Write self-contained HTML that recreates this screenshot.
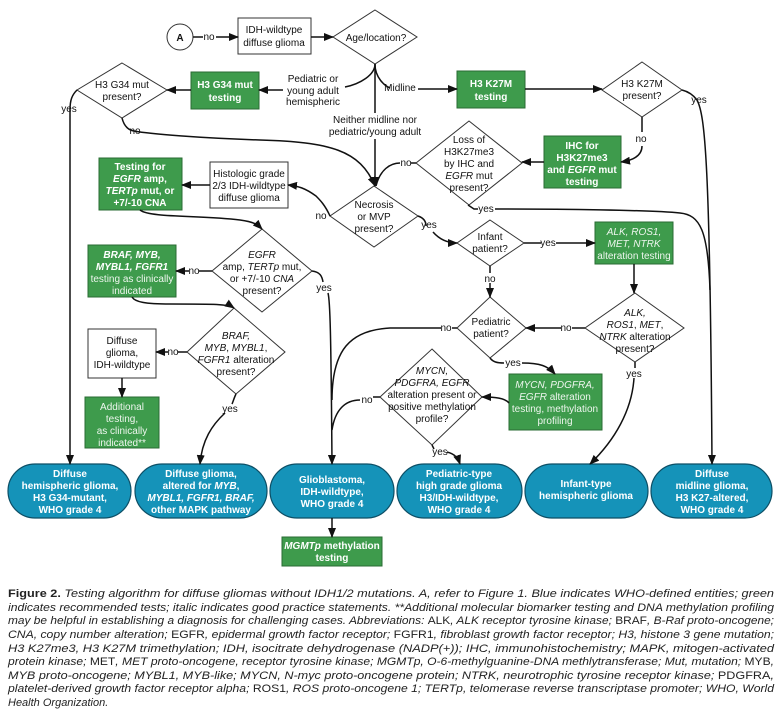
<!DOCTYPE html>
<html><head><meta charset="utf-8"><style>
html,body{margin:0;padding:0;background:#fff}
svg{display:block}
text{font-family:"Liberation Sans",sans-serif;font-size:10px;fill:#111}
.w{fill:#fff;font-weight:bold}
.l{fill:#eef6ee;font-weight:normal}
.c{font-family:"Liberation Sans",sans-serif;font-size:11px;font-style:italic;fill:#222}
.g{fill:#3e9b4c;stroke:#2a6b33;stroke-width:1}
.b{fill:#1593b9;stroke:#0d4f66;stroke-width:1.2}
.n{fill:#fff;stroke:#333;stroke-width:1}
.ln{fill:none;stroke:#111;stroke-width:1.5}
</style></head><body>
<svg width="783" height="711" viewBox="0 0 783 711" xmlns="http://www.w3.org/2000/svg">
<defs><marker id="a" markerWidth="10" markerHeight="8" refX="9" refY="4" orient="auto" markerUnits="userSpaceOnUse"><path d="M0,0 L10,4 L0,8 z" fill="#111"/></marker></defs>
<g text-anchor="middle">
<circle cx="180" cy="37" r="13" class="n" stroke-width="1.3"/><text x="180" y="41" font-weight="bold" font-size="12">A</text>
<rect x="238" y="18" width="73" height="36" class="n"/><text x="274" y="33">IDH-wildtype</text><text x="274" y="46">diffuse glioma</text>
<polygon points="375,10 417,37 375,64 333,37" class="n"/><text x="376" y="41">Age/location?</text>
<polygon points="122,63 167,90 122,118 77,90" class="n"/><text x="122" y="88">H3 G34 mut</text><text x="122" y="100">present?</text>
<rect x="191" y="72" width="68" height="37" class="g"/><text class="w" x="225" y="88">H3 G34 mut</text><text class="w" x="225" y="101">testing</text>
<text x="313" y="82">Pediatric or</text><text x="313" y="94">young adult</text><text x="313" y="105">hemispheric</text>
<rect x="457" y="71" width="68" height="37" class="g"/><text class="w" x="491" y="87">H3 K27M</text><text class="w" x="491" y="100">testing</text>
<polygon points="642,62 682,90 642,117 602,90" class="n"/><text x="642" y="87">H3 K27M</text><text x="642" y="99">present?</text>
<text x="375" y="123">Neither midline nor</text><text x="375" y="135">pediatric/young adult</text>
<polygon points="469,121 522,163 469,205 416,163" class="n"/>
<text x="469" y="143">Loss of</text><text x="469" y="155">H3K27me3</text><text x="469" y="167">by IHC and</text><text x="469" y="179"><tspan font-style="italic">EGFR</tspan> mut</text><text x="469" y="191">present?</text>
<rect x="544" y="136" width="77" height="52" class="g"/><text class="w" x="582" y="149">IHC for</text><text class="w" x="582" y="161">H3K27me3</text><text class="w" x="582" y="173">and <tspan font-style="italic">EGFR</tspan> mut</text><text class="w" x="582" y="185">testing</text>
<polygon points="374,186 418,216 374,247 330,216" class="n"/><text x="374" y="208">Necrosis</text><text x="374" y="220">or MVP</text><text x="374" y="232">present?</text>
<rect x="210" y="162" width="78" height="46" class="n"/><text x="249" y="177">Histologic grade</text><text x="249" y="189">2/3 IDH-wildtype</text><text x="249" y="201">diffuse glioma</text>
<rect x="99" y="158" width="83" height="52" class="g"/><text class="w" x="140" y="170">Testing for</text><text class="w" x="140" y="182"><tspan font-style="italic">EGFR</tspan> amp,</text><text class="w" x="140" y="194"><tspan font-style="italic">TERTp</tspan> mut, or</text><text class="w" x="140" y="206">+7/-10 CNA</text>
<polygon points="262,229 312,271 262,312 212,271" class="n"/><text x="262" y="258" font-style="italic">EGFR</text><text x="262" y="270">amp, <tspan font-style="italic">TERTp</tspan> mut,</text><text x="262" y="282">or +7/-10 <tspan font-style="italic">CNA</tspan></text><text x="262" y="294">present?</text>
<rect x="88" y="245" width="88" height="52" class="g"/><text class="w" x="132" y="258" font-style="italic">BRAF, MYB,</text><text class="w" x="132" y="270" font-style="italic">MYBL1, FGFR1</text><text class="l" x="132" y="282">testing as clinically</text><text class="l" x="132" y="294">indicated</text>
<polygon points="490,220 524,243 490,266 457,243" class="n"/><text x="490" y="240">Infant</text><text x="490" y="252">patient?</text>
<rect x="595" y="222" width="78" height="42" class="g"/><text class="l" x="634" y="235" font-style="italic">ALK, ROS1,</text><text class="l" x="634" y="247" font-style="italic">MET, NTRK</text><text class="l" x="634" y="259">alteration testing</text>
<polygon points="635,293 684,328 635,362 585,328" class="n"/><text x="635" y="316" font-style="italic">ALK,</text><text x="635" y="328"><tspan font-style="italic">ROS1</tspan>, <tspan font-style="italic">MET</tspan>,</text><text x="635" y="340"><tspan font-style="italic">NTRK</tspan> alteration</text><text x="635" y="352">present?</text>
<polygon points="490,297 526,328 490,358 457,328" class="n"/><text x="491" y="325">Pediatric</text><text x="491" y="337">patient?</text>
<polygon points="432,349 482,397 432,445 380,397" class="n"/><text x="432" y="374" font-style="italic">MYCN,</text><text x="432" y="386" font-style="italic">PDGFRA, EGFR</text><text x="432" y="398">alteration present or</text><text x="432" y="410">positive methylation</text><text x="432" y="422">profile?</text>
<rect x="509" y="374" width="93" height="56" class="g"/><text class="l" x="555" y="388"><tspan font-style="italic">MYCN, PDGFRA,</tspan></text><text class="l" x="555" y="400"><tspan font-style="italic">EGFR</tspan> alteration</text><text class="l" x="555" y="412">testing, methylation</text><text class="l" x="555" y="424">profiling</text>
<polygon points="234,308 285,352 236,394 187,352" class="n"/><text x="236" y="339" font-style="italic">BRAF,</text><text x="236" y="351"><tspan font-style="italic">MYB</tspan>, <tspan font-style="italic">MYBL1</tspan>,</text><text x="236" y="363"><tspan font-style="italic">FGFR1</tspan> alteration</text><text x="236" y="375">present?</text>
<rect x="88" y="329" width="68" height="49" class="n"/><text x="122" y="344">Diffuse</text><text x="122" y="356">glioma,</text><text x="122" y="368">IDH-wildtype</text>
<rect x="85" y="397" width="74" height="51" class="g"/><text class="l" x="122" y="410">Additional</text><text class="l" x="122" y="422">testing,</text><text class="l" x="122" y="434">as clinically</text><text class="l" x="122" y="446">indicated**</text>
<rect x="8" y="464" width="123" height="54" rx="27" class="b"/><text class="w" x="70" y="477">Diffuse</text><text class="w" x="70" y="489">hemispheric glioma,</text><text class="w" x="70" y="501">H3 G34-mutant,</text><text class="w" x="70" y="513">WHO grade 4</text>
<rect x="135" y="464" width="132" height="54" rx="27" class="b"/><text class="w" x="201" y="477">Diffuse glioma,</text><text class="w" x="201" y="489">altered for <tspan font-style="italic">MYB</tspan>,</text><text class="w" x="201" y="501" font-style="italic">MYBL1, FGFR1, BRAF,</text><text class="w" x="201" y="513">other MAPK pathway</text>
<rect x="270" y="464" width="124" height="54" rx="27" class="b"/><text class="w" x="332" y="483">Glioblastoma,</text><text class="w" x="332" y="495">IDH-wildtype,</text><text class="w" x="332" y="507">WHO grade 4</text>
<rect x="397" y="464" width="125" height="54" rx="27" class="b"/><text class="w" x="459" y="477">Pediatric-type</text><text class="w" x="459" y="489">high grade glioma</text><text class="w" x="459" y="501">H3/IDH-wildtype,</text><text class="w" x="459" y="513">WHO grade 4</text>
<rect x="525" y="464" width="123" height="54" rx="27" class="b"/><text class="w" x="586" y="487">Infant-type</text><text class="w" x="586" y="499">hemispheric glioma</text>
<rect x="651" y="464" width="121" height="54" rx="27" class="b"/><text class="w" x="712" y="477">Diffuse</text><text class="w" x="712" y="489">midline glioma,</text><text class="w" x="712" y="501">H3 K27-altered,</text><text class="w" x="712" y="513">WHO grade 4</text>
<rect x="282" y="537" width="100" height="29" class="g"/><text class="w" x="332" y="549"><tspan font-style="italic">MGMTp</tspan> methylation</text><text class="w" x="332" y="561">testing</text>
</g>
<g class="ln">
<path d="M193,37 H203 M216,37 H238" marker-end="url(#a)"/>
<path d="M311,37 H333" marker-end="url(#a)"/>
<path d="M375,64 C375,75 360,84 345,87 M283,90 H259" marker-end="url(#a)"/>
<path d="M375,64 C375,78 385,86 390,88"/>
<path d="M418,89 H457" marker-end="url(#a)"/>
<path d="M375,64 V113 M375,139 V186" marker-end="url(#a)"/>
<path d="M191,90 H167" marker-end="url(#a)"/>
<path d="M77,90 C72,95 70,100 70,110 V464" marker-end="url(#a)"/>
<path d="M122,118 C124,126 128,130 134,131 C150,134 200,138 260,140 C330,142 360,150 375,186" marker-end="url(#a)"/>
<path d="M525,89 H602" marker-end="url(#a)"/>
<path d="M682,90 C690,92 694,96 697,100 C705,115 710,160 712,464" marker-end="url(#a)"/>
<path d="M642,117 V132 M642,146 C642,155 635,160 621,162" marker-end="url(#a)"/>
<path d="M544,162 H522" marker-end="url(#a)"/>
<path d="M416,163 H411 M400,163 C390,163 380,170 376,186"/>
<path d="M468,205 L474,209 H478 M495,209 C560,209 650,210 680,213 C700,215 708,230 710,290"/>
<path d="M330,216 C325,205 320,200 316,196 C305,188 298,186 288,185" marker-end="url(#a)"/>
<path d="M210,185 H182" marker-end="url(#a)"/>
<path d="M140,210 C150,218 200,215 240,220 C255,222 258,225 262,229" marker-end="url(#a)"/>
<path d="M212,271 H199 M189,271 H176" marker-end="url(#a)"/>
<path d="M312,271 C320,272 322,276 323,282 M328,293 C330,300 331,330 332,464" marker-end="url(#a)"/>
<path d="M132,297 C135,302 145,304 170,304 C215,304 228,304 234,308" marker-end="url(#a)"/>
<path d="M187,352 H178 M168,352 H156" marker-end="url(#a)"/>
<path d="M122,378 V397" marker-end="url(#a)"/>
<path d="M236,394 C234,398 233,402 232,404 M225,413 C212,425 202,440 200,464" marker-end="url(#a)"/>
<path d="M418,216 C424,218 426,222 426,226 M433,232 C440,240 448,243 457,243" marker-end="url(#a)"/>
<path d="M524,243 H541 M556,243 H595" marker-end="url(#a)"/>
<path d="M634,264 V293" marker-end="url(#a)"/>
<path d="M490,266 V273 M490,283 V297" marker-end="url(#a)"/>
<path d="M585,328 H572 M561,328 H526" marker-end="url(#a)"/>
<path d="M635,362 V368 M634,378 C632,410 615,440 590,464" marker-end="url(#a)"/>
<path d="M457,328 H452 M441,328 H390 C350,330 332,350 332,400"/>
<path d="M490,358 C493,362 497,363 504,363 M522,363 C540,363 548,366 555,374" marker-end="url(#a)"/>
<path d="M509,403 C505,398 495,397 482,397" marker-end="url(#a)"/>
<path d="M380,397 H373 M360,400 C345,400 335,410 332,430"/>
<path d="M432,445 L434,449 M447,452 C455,454 458,458 460,464" marker-end="url(#a)"/>
<path d="M332,518 V537" marker-end="url(#a)"/>
</g>
<g font-size="10.5" text-anchor="middle">
<text x="209" y="40">no</text>
<text x="400" y="91">Midline</text>
<text x="69" y="112">yes</text>
<text x="135" y="134">no</text>
<text x="699" y="103">yes</text>
<text x="641" y="142">no</text>
<text x="406" y="166">no</text>
<text x="486" y="212">yes</text>
<text x="321" y="219">no</text>
<text x="194" y="274">no</text>
<text x="324" y="291">yes</text>
<text x="173" y="355">no</text>
<text x="230" y="412">yes</text>
<text x="429" y="228">yes</text>
<text x="548" y="246">yes</text>
<text x="490" y="282">no</text>
<text x="566" y="331">no</text>
<text x="634" y="377">yes</text>
<text x="446" y="331">no</text>
<text x="513" y="366">yes</text>
<text x="367" y="403">no</text>
<text x="440" y="455">yes</text>
</g>
<g>
<text class="c" x="8" y="597" textLength="766" lengthAdjust="spacingAndGlyphs"><tspan font-style="normal" font-weight="bold">Figure 2.</tspan>   Testing algorithm for diffuse gliomas without IDH1/2 mutations. A, refer to Figure 1. Blue indicates WHO-defined entities; green</text>
<text class="c" x="8" y="611" textLength="766" lengthAdjust="spacingAndGlyphs">indicates recommended tests; italic indicates good practice statements. **Additional molecular biomarker testing and DNA methylation profiling</text>
<text class="c" x="8" y="624" textLength="766" lengthAdjust="spacingAndGlyphs">may be helpful in establishing a diagnosis for challenging cases. Abbreviations: <tspan font-style="normal">ALK</tspan>, ALK receptor tyrosine kinase; <tspan font-style="normal">BRAF</tspan>, B-Raf proto-oncogene;</text>
<text class="c" x="8" y="638" textLength="766" lengthAdjust="spacingAndGlyphs">CNA, copy number alteration; <tspan font-style="normal">EGFR</tspan>, epidermal growth factor receptor; <tspan font-style="normal">FGFR1</tspan>, fibroblast growth factor receptor; H3, histone 3 gene mutation;</text>
<text class="c" x="8" y="652" textLength="766" lengthAdjust="spacingAndGlyphs">H3 K27me3, H3 K27M trimethylation; IDH, isocitrate dehydrogenase (NADP(+)); IHC, immunohistochemistry; MAPK, mitogen-activated</text>
<text class="c" x="8" y="665" textLength="766" lengthAdjust="spacingAndGlyphs">protein kinase; <tspan font-style="normal">MET</tspan>, MET proto-oncogene, receptor tyrosine kinase; MGMTp, O-6-methylguanine-DNA methlytransferase; Mut, mutation; <tspan font-style="normal">MYB</tspan>,</text>
<text class="c" x="8" y="679" textLength="766" lengthAdjust="spacingAndGlyphs">MYB proto-oncogene; MYBL1, MYB-like; MYCN, N-myc proto-oncogene protein; NTRK, neurotrophic tyrosine receptor kinase; <tspan font-style="normal">PDGFRA</tspan>,</text>
<text class="c" x="8" y="692" textLength="766" lengthAdjust="spacingAndGlyphs">platelet-derived growth factor receptor alpha; <tspan font-style="normal">ROS1</tspan>, ROS proto-oncogene 1; TERTp, telomerase reverse transcriptase promoter; WHO, World</text>
<text class="c" x="8" y="706">Health Organization.</text>
</g>
</svg>
</body></html>
